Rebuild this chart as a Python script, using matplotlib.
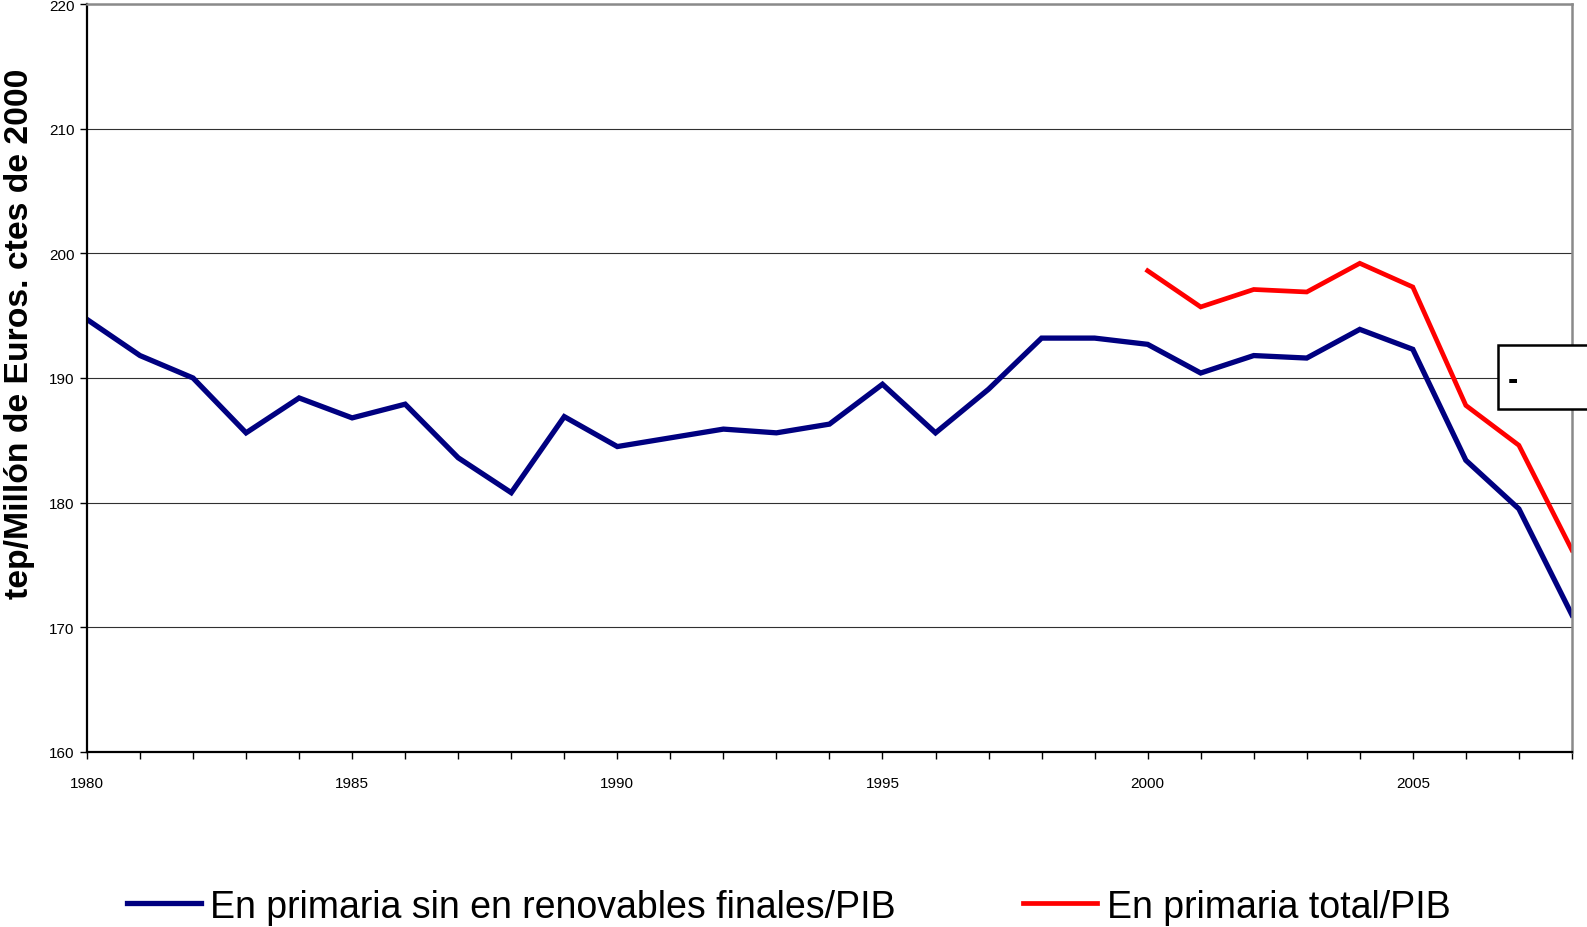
#%%############################################################################
# Energy intensity (tep / M EUR 2000), 1980-2008
###############################################################################
import matplotlib
matplotlib.use('Agg')
import matplotlib.pyplot as plt
from matplotlib.patches import Rectangle

plt.rcParams['font.family'] = ['Liberation Sans', 'DejaVu Sans']

#%%############################################################################
# Data
###############################################################################
years = list(range(1980, 2009))
sinRenovables = [194.7, 191.8, 190.0, 185.6, 188.4, 186.8, 187.9, 183.6, 180.8, 186.9,
                 184.5, 185.2, 185.9, 185.6, 186.3, 189.5, 185.6, 189.1, 193.2, 193.2,
                 192.7, 190.4, 191.8, 191.6, 193.9, 192.3, 183.4, 179.5, 171.0]
yearsTotal = list(range(2000, 2009))
primariaTotal = [198.6, 195.7, 197.1, 196.9, 199.2, 197.3, 187.8, 184.6, 176.2]

labelSin = 'En primaria sin en renovables finales/PIB'
labelTotal = 'En primaria total/PIB'
yLabel = 'tep/Millón de Euros. ctes de 2000'
xTickLabels = ['1980', '1985', '1990', '1995', '2000', '2005']

#%%############################################################################
# Plot
###############################################################################
fig = plt.figure(figsize=(15.87, 9.28), dpi=100)
ax = fig.add_axes([0.0548, 0.1886, 0.9357, 0.806])

hSin, = ax.plot(years, sinRenovables, color='#000080', lw=3.8, label=labelSin,
                solid_joinstyle='miter')
hTot, = ax.plot(yearsTotal, primariaTotal, color='#ff0000', lw=3.4, label=labelTotal,
                solid_joinstyle='miter')

ax.set_xlim(1980, 2008)
ax.set_ylim(160, 220)
ax.set_yticks(range(160, 221, 10))
ax.set_xticks(years)
ax.set_xticklabels([str(y) if str(y) in xTickLabels else '' for y in years])
ax.tick_params(axis='both', direction='out', length=5, width=1, labelsize=11, colors='black')
ax.tick_params(axis='x', pad=12)
ax.tick_params(axis='y', pad=4)
ax.yaxis.grid(True, color='#303030', lw=0.8)
ax.set_axisbelow(True)

for side in ['left', 'bottom']:
    ax.spines[side].set_color('black')
    ax.spines[side].set_linewidth(1.6)
for side in ['top', 'right']:
    ax.spines[side].set_color('#8a8a8a')
    ax.spines[side].set_linewidth(1.8)

fig.text(0.0125, 0.6406, yLabel, rotation=90, ha='center', va='center',
         fontsize=24.3, fontweight='bold')

# Legend at the bottom
leg = fig.legend(handles=[hSin, hTot], loc='center', bbox_to_anchor=(0.497, 0.022),
                 ncol=2, frameon=False, fontsize=27, handlelength=1.97,
                 handletextpad=0.25, columnspacing=3.4, borderpad=0, borderaxespad=0)

# Leftover legend box on the right edge
fig.patches.append(Rectangle((0.944, 0.558), 0.08, 0.069, transform=fig.transFigure,
                             fill=True, facecolor='white', edgecolor='black', lw=1.8,
                             clip_on=False))
fig.text(0.9535, 0.589, '-', ha='center', va='center', fontsize=22, fontweight='bold')

fig.savefig('out.png', dpi=100)
